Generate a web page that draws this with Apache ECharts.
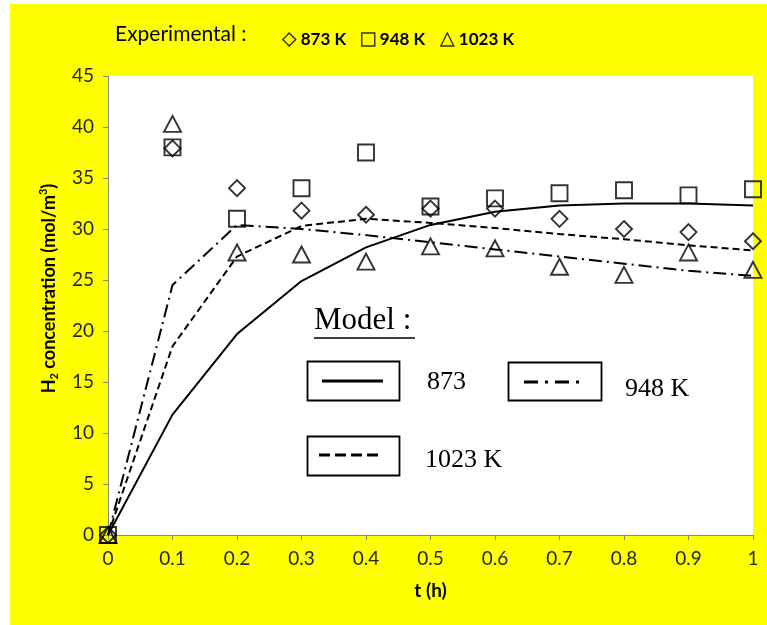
<!DOCTYPE html>
<html>
<head>
<meta charset="utf-8">
<script src="https://cdn.jsdelivr.net/npm/echarts@6/dist/echarts.min.js"></script>
<style>
  html, body { margin: 0; padding: 0; background: #ffffff; }
  #chart { position: absolute; left: 10px; top: 4px; width: 757px; height: 621px; }
</style>
</head>
<body>
<div id="chart"></div>
<script>
// ---- data ----
var tValues = [0, 0.1, 0.2, 0.3, 0.4, 0.5, 0.6, 0.7, 0.8, 0.9, 1.0];
var exp873  = [0, 37.9, 34.0, 31.8, 31.4, 32.0, 32.0, 31.0, 30.0, 29.7, 28.8];
var exp948  = [0, 38.0, 31.0, 34.0, 37.5, 32.2, 33.0, 33.5, 33.8, 33.3, 33.9];
var exp1023 = [0, 40.3, 27.7, 27.5, 26.8, 28.3, 28.1, 26.3, 25.5, 27.7, 26.0];
var model873  = [0, 11.8, 19.7, 24.9, 28.2, 30.4, 31.7, 32.3, 32.5, 32.5, 32.3];
var model948  = [0, 24.5, 30.4, 30.0, 29.4, 28.7, 28.0, 27.3, 26.6, 25.9, 25.4];
var model1023 = [0, 18.5, 27.3, 30.3, 31.0, 30.6, 30.1, 29.5, 29.0, 28.4, 27.9];
var expNames = ['873 K', '948 K', '1023 K'];
var modelNames = ['873', '948 K', '1023 K'];

function pairs(ys) { return tValues.map(function (t, i) { return [t, ys[i]]; }); }

var chart = echarts.init(document.getElementById('chart'), null, { renderer: 'canvas' });
var axisGrey = '#868686';
var txt = '#262626';
var sans = 'Lato, "Open Sans", sans-serif';
var serif = '"Liberation Serif", "Times New Roman", serif';

function scatter(name, ys, sym, size) {
  return {
    name: name, type: 'scatter', data: pairs(ys), symbol: sym, symbolSize: size,
    clip: false, z: 5,
    itemStyle: { color: 'rgba(0,0,0,0)', borderColor: '#000', borderWidth: 1.9 }
  };
}
function line(name, ys, dash) {
  return {
    name: 'Model ' + name, type: 'line', data: pairs(ys), symbol: 'none', clip: false,
    lineStyle: { color: '#000', width: 2, type: dash }, z: 3
  };
}

chart.setOption({
  backgroundColor: '#ffff00',
  animation: false,
  grid: { left: 98, top: 72, right: 14, bottom: 90, show: true, backgroundColor: '#ffffff', borderWidth: 0 },
  legend: {
    data: expNames, left: 267, top: 22, itemWidth: 13, itemHeight: 13, itemGap: 15,
    selectedMode: false,
    itemStyle: { borderWidth: 1.4 },
    textStyle: { fontFamily: sans, fontWeight: 'bold', fontSize: 17, color: '#000' }
  },
  xAxis: {
    type: 'value', min: 0, max: 1, interval: 0.1,
    name: 't (h)', nameLocation: 'middle', nameGap: 46,
    nameTextStyle: { fontFamily: sans, fontWeight: 'bold', fontSize: 19, color: '#000' },
    axisLine: { lineStyle: { color: axisGrey, width: 1 } },
    axisTick: { show: true, length: 5, lineStyle: { color: axisGrey } },
    splitLine: { show: false },
    axisLabel: { margin: 14, fontFamily: sans, fontSize: 19, color: txt,
      formatter: function (v) { return String(+v.toFixed(1)); } }
  },
  yAxis: {
    type: 'value', min: 0, max: 45, interval: 5,
    name: 'H{sub|2} concentration (mol/m{sup|3})', nameLocation: 'middle', nameGap: 48,
    nameTextStyle: { fontFamily: sans, fontWeight: 'bold', fontSize: 18, color: '#000', lineHeight: 22,
      padding: [0, 0, 0, 34],
      rich: {
        sub: { fontFamily: sans, fontWeight: 'bold', fontSize: 11, color: '#000', verticalAlign: 'bottom', lineHeight: 22 },
        sup: { fontFamily: sans, fontWeight: 'bold', fontSize: 11, color: '#000', verticalAlign: 'top', lineHeight: 22 }
      } },
    axisLine: { show: true, lineStyle: { color: axisGrey, width: 1 } },
    axisTick: { show: true, length: 5, lineStyle: { color: axisGrey } },
    splitLine: { show: false },
    axisLabel: { margin: 14, fontFamily: sans, fontSize: 19, color: txt }
  },
  series: [
    line(modelNames[0], model873, 'solid'),
    line(modelNames[1], model948, [13, 5, 2, 5]),
    line(modelNames[2], model1023, [7, 4]),
    scatter(expNames[0], exp873, 'diamond', 16),
    scatter(expNames[1], exp948, 'rect', 16),
    scatter(expNames[2], exp1023, 'triangle', [17, 16])
  ],
  graphic: [
    { type: 'text', left: 105, top: 20, style: { text: 'Experimental :', font: '21px ' + sans, fill: '#000' } },
    { type: 'text', left: 304, top: 301, style: { text: 'Model :', font: '31px ' + serif, fill: '#000' } },
    { type: 'line', shape: { x1: 304, y1: 334, x2: 405, y2: 334 }, style: { stroke: '#000', lineWidth: 1.3 } },
    // box 1: solid
    { type: 'rect', shape: { x: 297.5, y: 357.5, width: 92, height: 39 }, style: { fill: '#fff', stroke: '#000', lineWidth: 1.8 } },
    { type: 'line', shape: { x1: 312, y1: 377, x2: 373, y2: 377 }, style: { stroke: '#000', lineWidth: 3 } },
    { type: 'text', left: 417, top: 365, style: { text: modelNames[0], font: '26px ' + serif, fill: '#000' } },
    // box 2: dash-dot
    { type: 'rect', shape: { x: 498.5, y: 358.5, width: 93, height: 38 }, style: { fill: '#fff', stroke: '#000', lineWidth: 1.8 } },
    { type: 'line', shape: { x1: 514, y1: 378, x2: 574, y2: 378 }, style: { stroke: '#000', lineWidth: 3, lineDash: [14, 7, 3, 7] } },
    { type: 'text', left: 615, top: 372, style: { text: modelNames[1], font: '26px ' + serif, fill: '#000' } },
    // box 3: dashed
    { type: 'rect', shape: { x: 297.5, y: 432.5, width: 92, height: 39 }, style: { fill: '#fff', stroke: '#000', lineWidth: 1.8 } },
    { type: 'line', shape: { x1: 309, y1: 451, x2: 369, y2: 451 }, style: { stroke: '#000', lineWidth: 3, lineDash: [11, 5] } },
    { type: 'text', left: 415, top: 443, style: { text: modelNames[2], font: '26px ' + serif, fill: '#000' } }
  ]
});
</script>
</body>
</html>
